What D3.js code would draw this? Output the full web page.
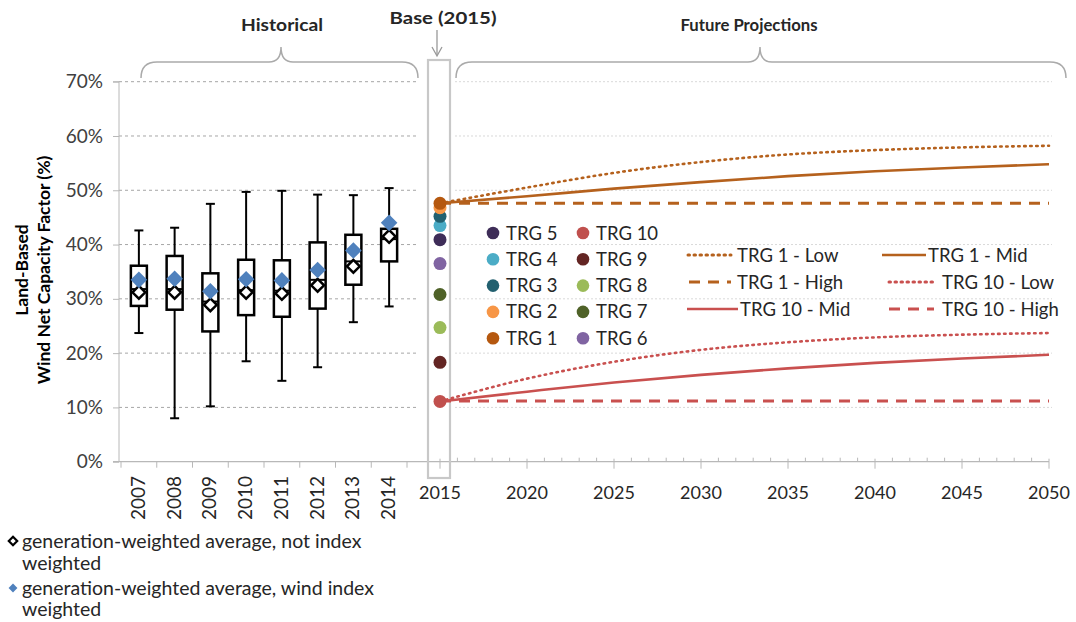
<!DOCTYPE html>
<html><head><meta charset="utf-8">
<script src="https://cdn.jsdelivr.net/npm/d3@7"></script>
<style>
body{margin:0;background:#fff;}
svg{display:block;font-family:Lato,"Open Sans",sans-serif;}
</style></head>
<body><svg id="c" width="1076" height="622"></svg>
<script>
// ---------- DATA ----------
const histYears = ["2007","2008","2009","2010","2011","2012","2013","2014"];
const whiskerLow  = [0.237,0.080,0.102,0.185,0.149,0.174,0.257,0.286];
const boxLow      = [0.287,0.280,0.240,0.270,0.267,0.282,0.326,0.369];
const medianVal   = [0.318,0.318,0.295,0.316,0.315,0.335,0.369,0.410];
const boxHigh     = [0.361,0.379,0.347,0.372,0.371,0.404,0.418,0.429];
const whiskerHigh = [0.426,0.431,0.475,0.497,0.499,0.492,0.491,0.504];
const avgNotIndex = [0.312,0.312,0.289,0.312,0.310,0.325,0.360,0.415];
const avgWindIdx  = [0.335,0.337,0.314,0.336,0.334,0.353,0.389,0.440];

const trgNames  = ["TRG 1","TRG 2","TRG 3","TRG 4","TRG 5","TRG 6","TRG 7","TRG 8","TRG 9","TRG 10"];
const trgBase   = [0.476,0.468,0.452,0.435,0.409,0.365,0.308,0.247,0.183,0.111];
const trgColors = ["#b5580f","#f79646","#22606f","#4bacc6","#3e2d58","#8064a2","#4f6228","#9bbb59","#632523","#c0504d"];

const projYears = [2015,2020,2025,2030,2035,2040,2045,2050];
const trg1Low   = [0.476,0.505,0.532,0.552,0.566,0.574,0.579,0.582];
const trg1Mid   = [0.476,0.489,0.503,0.515,0.526,0.535,0.542,0.548];
const trg1High  = [0.476,0.476,0.476,0.476,0.476,0.476,0.476,0.476];
const trg10Low  = [0.111,0.153,0.184,0.206,0.220,0.229,0.234,0.237];
const trg10Mid  = [0.111,0.129,0.146,0.160,0.172,0.182,0.190,0.197];
const trg10High = [0.112,0.112,0.112,0.112,0.112,0.112,0.112,0.112];

const yTicks = [0,0.1,0.2,0.3,0.4,0.5,0.6,0.7];
const projTicks = [2015,2020,2025,2030,2035,2040,2045,2050];

// ---------- SETUP ----------
const svg = d3.select("#c");
const y = d3.scaleLinear().domain([0,0.7]).range([461.7,81.7]);
const xb = d3.scaleBand().domain(histYears).range([121,407]);
const xp = d3.scaleLinear().domain([2015,2050]).range([440,1049]);
const c1 = "#b5611d", c10 = "#c9504f";
const axisCol = "#b8b8b8", textCol = "#404040";

// gridlines
const g = svg.append("g");
yTicks.slice(1).forEach(t=>{
  g.append("line").attr("x1",119).attr("x2",418).attr("y1",y(t)).attr("y2",y(t))
   .attr("stroke","#a6a6a6").attr("stroke-width",1).attr("stroke-dasharray","3,3");
  g.append("line").attr("x1",455).attr("x2",1052).attr("y1",y(t)).attr("y2",y(t))
   .attr("stroke","#d9d9d9").attr("stroke-width",1).attr("stroke-dasharray","2,2");
});

// y axis
const ya = svg.append("g").attr("transform","translate(119,0)")
  .call(d3.axisLeft(y).tickValues(yTicks).tickFormat(d3.format(".0%")).tickSize(6).tickPadding(10));
ya.select(".domain").attr("stroke",axisCol).attr("d","M-6,"+y(0.7)+"H0V"+y(0));
ya.selectAll(".tick line").attr("stroke",axisCol);
ya.selectAll("text").attr("font-size",19).attr("fill",textCol).attr("font-family","Lato,sans-serif");

// x axis line
svg.append("line").attr("x1",113).attr("x2",1049).attr("y1",y(0)).attr("y2",y(0)).attr("stroke",axisCol).attr("stroke-width",1.3);

// band boundary ticks
const bounds = histYears.map(d=>xb(d)).concat([xb.range()[1]]);
svg.append("g").selectAll("line").data(bounds).join("line")
  .attr("x1",d=>d).attr("x2",d=>d).attr("y1",y(0)).attr("y2",y(0)+6).attr("stroke",axisCol);
// hist labels
svg.append("g").selectAll("text").data(histYears).join("text")
  .attr("transform",d=>`translate(${xb(d)+xb.bandwidth()/2+6},476) rotate(-90)`)
  .attr("text-anchor","end").attr("font-size",19).attr("fill","#262626").text(d=>d);

// projection axis ticks
const minor = d3.range(2016,2051).filter(d=>d%5!==0);
svg.append("g").selectAll("line").data(minor).join("line")
  .attr("x1",d=>xp(d)).attr("x2",d=>xp(d)).attr("y1",y(0)-4).attr("y2",y(0)).attr("stroke",axisCol);
svg.append("g").selectAll("line").data(projTicks).join("line")
  .attr("x1",d=>xp(d)).attr("x2",d=>xp(d)).attr("y1",y(0)-3).attr("y2",y(0)+7).attr("stroke",axisCol);
svg.append("g").selectAll("text").data(projTicks).join("text")
  .attr("x",d=>xp(d)).attr("y",499).attr("text-anchor","middle").attr("font-size",18).attr("fill","#262626").text(d=>d);

// ---------- BOX PLOTS ----------
const bp = svg.append("g");
histYears.forEach((yr,i)=>{
  const cx = xb(yr)+xb.bandwidth()/2;
  bp.append("line").attr("x1",cx).attr("x2",cx).attr("y1",y(whiskerHigh[i])).attr("y2",y(boxHigh[i])).attr("stroke","#000").attr("stroke-width",2);
  bp.append("line").attr("x1",cx).attr("x2",cx).attr("y1",y(boxLow[i])).attr("y2",y(whiskerLow[i])).attr("stroke","#000").attr("stroke-width",2);
  [whiskerHigh[i],whiskerLow[i]].forEach(v=>bp.append("line").attr("x1",cx-4.5).attr("x2",cx+4.5).attr("y1",y(v)).attr("y2",y(v)).attr("stroke","#000").attr("stroke-width",2));
  bp.append("rect").attr("x",cx-8).attr("width",16).attr("y",y(boxHigh[i])).attr("height",y(boxLow[i])-y(boxHigh[i]))
    .attr("fill","#fff").attr("stroke","#000").attr("stroke-width",2.5);
  bp.append("line").attr("x1",cx-8).attr("x2",cx+8).attr("y1",y(medianVal[i])).attr("y2",y(medianVal[i])).attr("stroke","#000").attr("stroke-width",2);
  bp.append("path").attr("d",d3.symbol(d3.symbolDiamond2,105)()).attr("transform",`translate(${cx},${y(avgNotIndex[i])})`)
    .attr("fill","#fff").attr("stroke","#000").attr("stroke-width",2.5);
  bp.append("path").attr("d",d3.symbol(d3.symbolDiamond2,175)()).attr("transform",`translate(${cx},${y(avgWindIdx[i])})`)
    .attr("fill","#4f81bd");
});

// ---------- BASE BOX & DOTS ----------
svg.append("rect").attr("x",428).attr("y",60).attr("width",22).attr("height",418)
  .attr("fill","none").attr("stroke","#c8c8c8").attr("stroke-width",2.2);

// projection lines
const line = d3.line().x((d,i)=>xp(projYears[i])).y(d=>y(d)).curve(d3.curveMonotoneX);
const series = [
  {v:trg1Low,c:c1,dash:"1.5,4.5",w:2.6,cap:"round"},
  {v:trg1Mid,c:c1,dash:null,w:2.6},
  {v:trg1High,c:c1,dash:"11,8",w:3},
  {v:trg10Low,c:c10,dash:"1.5,4.5",w:2.6,cap:"round"},
  {v:trg10Mid,c:c10,dash:null,w:2.6},
  {v:trg10High,c:c10,dash:"11,8",w:3}
];
series.forEach(s=>{
  svg.append("path").attr("d",line(s.v)).attr("fill","none").attr("stroke",s.c).attr("stroke-width",s.w)
    .attr("stroke-dasharray",s.dash).attr("stroke-linecap",s.cap||"butt");
});

// base dots (draw from bottom of list so TRG1 on top)
svg.append("g").selectAll("circle").data(trgBase.map((v,i)=>({v,i})).reverse()).join("circle")
  .attr("cx",xp(2015)).attr("cy",d=>y(d.v)).attr("r",6.5).attr("fill",d=>trgColors[d.i]);

// ---------- TRG LEGEND ----------
const legOrder = [[4,9],[3,8],[2,7],[1,6],[0,5]];
const lg = svg.append("g");
legOrder.forEach((pair,r)=>{
  pair.forEach((idx,col)=>{
    const lx = col===0?493:583, ly = 233+r*26.3;
    lg.append("circle").attr("cx",lx).attr("cy",ly).attr("r",6.3).attr("fill",trgColors[idx]);
    lg.append("text").attr("x",lx+13).attr("y",ly+6.5).attr("font-size",18.5).attr("fill","#262626").text(trgNames[idx]);
  });
});

// ---------- LINE LEGEND ----------
const lineLeg = [
  {t:"TRG 1 - Low",c:c1,dash:"1.5,4.5",cap:"round",x:688,y:255,x2:731,tx:737},
  {t:"TRG 1 - Mid",c:c1,dash:null,x:882,y:255,x2:926,tx:928},
  {t:"TRG 1 - High",c:c1,dash:"11,8",x:689,y:282,x2:731,tx:737},
  {t:"TRG 10 - Low",c:c10,dash:"1.5,4.5",cap:"round",x:889,y:282,x2:936,tx:942},
  {t:"TRG 10 - Mid",c:c10,dash:null,x:687,y:309,x2:738,tx:740},
  {t:"TRG 10 - High",c:c10,dash:"11,8",x:889,y:309,x2:934,tx:942}
];
lineLeg.forEach(l=>{
  svg.append("line").attr("x1",l.x).attr("x2",l.x2).attr("y1",l.y).attr("y2",l.y).attr("stroke",l.c)
    .attr("stroke-width",l.dash?3:2.6).attr("stroke-dasharray",l.dash).attr("stroke-linecap",l.cap||"butt");
  svg.append("text").attr("x",l.tx).attr("y",l.y+6.5).attr("font-size",18.5).attr("fill","#262626").text(l.t);
});

// ---------- Y TITLE ----------
svg.append("text").attr("transform","translate(28,270) rotate(-90)").attr("text-anchor","middle")
  .attr("font-size",17.5).attr("font-weight","bold").attr("fill","#000").text("Land-Based");
svg.append("text").attr("transform","translate(50,270) rotate(-90)").attr("text-anchor","middle")
  .attr("font-size",17.5).attr("font-weight","bold").attr("fill","#000").text("Wind Net Capacity Factor (%)");

// ---------- TOP ANNOTATIONS ----------
function brace(x1,x2,xm){
  const yt=47, ym=62, yb=78;
  return `M${x1},${yb} Q${x1},${ym} ${x1+16},${ym} L${xm-12},${ym} Q${xm},${ym} ${xm},${yt} Q${xm},${ym} ${xm+12},${ym} L${x2-16},${ym} Q${x2},${ym} ${x2},${yb}`;
}
svg.append("path").attr("d",brace(141,418,281)).attr("fill","none").attr("stroke","#aaa").attr("stroke-width",1.5);
svg.append("path").attr("d",brace(456,1066,760)).attr("fill","none").attr("stroke","#aaa").attr("stroke-width",1.5);
const topLbl = (x,yy,t,len)=>svg.append("text").attr("x",x).attr("y",yy).attr("text-anchor","middle")
  .attr("font-size",17).attr("font-weight","700").attr("fill","#262626").attr("font-family","Lato,sans-serif")
  .attr("textLength",len).attr("lengthAdjust","spacingAndGlyphs").text(t);
topLbl(282,31,"Historical",82);
topLbl(443,24,"Base (2015)",107);
topLbl(749,31,"Future Projections",137);
svg.append("line").attr("x1",437).attr("x2",437).attr("y1",30).attr("y2",55).attr("stroke","#999").attr("stroke-width",1.3);
svg.append("path").attr("d","M432,47 L437,56 L442,47").attr("fill","none").attr("stroke","#999").attr("stroke-width",1.3);

// ---------- BOTTOM LEGEND ----------
svg.append("path").attr("d",d3.symbol(d3.symbolDiamond2,45)()).attr("transform","translate(13,541)")
  .attr("fill","#fff").attr("stroke","#000").attr("stroke-width",2.2);
svg.append("path").attr("d",d3.symbol(d3.symbolDiamond2,50)()).attr("transform","translate(13,588)").attr("fill","#4f81bd");
const bl = (yy,t)=>svg.append("text").attr("x",22).attr("y",yy).attr("font-size",19.5).attr("fill","#262626").text(t);
bl(548,"generation-weighted average, not index");
bl(570,"weighted");
bl(595,"generation-weighted average, wind index");
bl(616,"weighted");
</script></body></html>
